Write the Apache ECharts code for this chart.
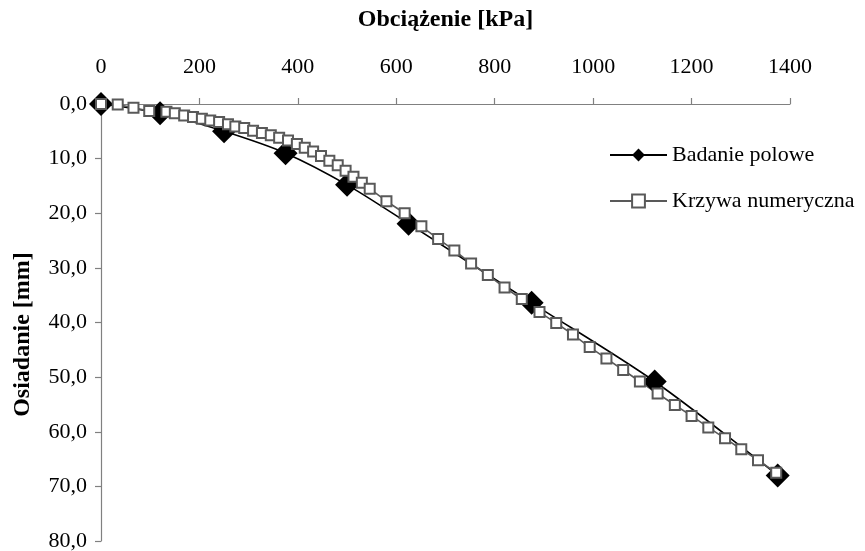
<!DOCTYPE html>
<html>
<head>
<meta charset="utf-8">
<script src="https://cdn.jsdelivr.net/npm/echarts@6/dist/echarts.min.js"></script>
<style>
html,body{margin:0;padding:0;background:#fff;}
#chart{width:865px;height:551px;}
</style>
</head>
<body>
<div id="chart"></div>
<script>
// Field test (Badanie polowe)
const fieldLoad = [0, 120, 250, 375, 500, 625, 875, 1125, 1375];
const fieldSettle = [0, 1.7, 5.0, 9.0, 14.8, 21.9, 36.4, 50.8, 68.0];

// Numerical curve (Krzywa numeryczna)
const numLoad = [0, 34, 66, 98, 133, 150, 169, 187, 205, 222, 240, 258, 273, 291, 309, 327, 345, 362, 380, 398, 414, 431, 447, 464, 481, 497, 513, 530, 546, 580, 617, 651, 685, 718, 752, 786, 820, 855, 891, 925, 959, 993, 1027, 1061, 1095, 1131, 1166, 1200, 1234, 1268, 1301, 1335, 1372];
const numSettle = [0, 0.1, 0.7, 1.3, 1.4, 1.7, 2.1, 2.4, 2.7, 3.0, 3.3, 3.7, 4.1, 4.4, 4.9, 5.3, 5.7, 6.2, 6.7, 7.3, 8.0, 8.7, 9.5, 10.4, 11.2, 12.2, 13.3, 14.4, 15.5, 17.8, 20.0, 22.4, 24.7, 26.8, 29.2, 31.3, 33.6, 35.7, 38.1, 40.1, 42.2, 44.5, 46.6, 48.7, 50.8, 53.0, 55.1, 57.1, 59.2, 61.2, 63.2, 65.2, 67.5];

const xTickLabels = ['0', '200', '400', '600', '800', '1000', '1200', '1400'];
const yTickLabels = ['0,0', '10,0', '20,0', '30,0', '40,0', '50,0', '60,0', '70,0', '80,0'];

const seriesNames = ['Badanie polowe', 'Krzywa numeryczna'];
const xAxisTitle = 'Obciążenie [kPa]';
const yAxisTitle = 'Osiadanie [mm]';

const FONT = 'Liberation Serif';
const chart = echarts.init(document.getElementById('chart'));
chart.setOption({
  animation: false,
  backgroundColor: '#fff',
  textStyle: { fontFamily: FONT },
  grid: { left: 101, right: 75, top: 104, bottom: 10, containLabel: false, outerBoundsMode: 'none' },
  legend: {
    orient: 'vertical',
    left: 604,
    top: 139,
    itemWidth: 57,
    itemHeight: 16,
    itemGap: 24,
    textStyle: { fontFamily: FONT, fontSize: 22, color: '#000' },
    data: seriesNames
  },
  xAxis: {
    type: 'value',
    position: 'top',
    min: 0, max: 1400, interval: 200,
    name: xAxisTitle,
    nameLocation: 'middle',
    nameGap: 72,
    nameTextStyle: { fontFamily: FONT, fontSize: 24, fontWeight: 'bold', color: '#000' },
    axisLine: { show: true, lineStyle: { color: '#808080', width: 1.2 } },
    axisTick: { show: true, inside: false, length: 6, lineStyle: { color: '#808080', width: 1.2 } },
    axisLabel: { margin: 26, fontFamily: FONT, fontSize: 22, color: '#000',
      formatter: v => xTickLabels[Math.round(v / 200)] },
    splitLine: { show: false }
  },
  yAxis: {
    type: 'value',
    inverse: true,
    min: 0, max: 80, interval: 10,
    name: yAxisTitle,
    nameLocation: 'middle',
    nameGap: 66,
    nameRotate: 90,
    nameTextStyle: { fontFamily: FONT, fontSize: 24, fontWeight: 'bold', color: '#000', padding: [0, 24, 0, 0] },
    axisLine: { show: true, lineStyle: { color: '#808080', width: 1.2 } },
    axisTick: { show: true, inside: false, length: 6, lineStyle: { color: '#808080', width: 1.2 } },
    axisLabel: { margin: 14, fontFamily: FONT, fontSize: 22, color: '#000',
      formatter: v => yTickLabels[Math.round(v / 10)] },
    splitLine: { show: false }
  },
  series: [
    {
      name: seriesNames[0],
      type: 'line',
      smooth: 0.3,
      data: fieldLoad.map((x, i) => [x, fieldSettle[i]]),
      symbol: 'diamond',
      symbolSize: 24,
      lineStyle: { color: '#000', width: 1.6 },
      itemStyle: { color: '#000', borderColor: '#000', borderWidth: 0 }
    },
    {
      name: seriesNames[1],
      type: 'line',
      data: numLoad.map((x, i) => [x, numSettle[i]]),
      symbol: 'rect',
      symbolSize: 10,
      lineStyle: { color: '#595959', width: 1.6 },
      itemStyle: { color: '#fff', borderColor: '#595959', borderWidth: 2 }
    }
  ]
});
</script>
</body>
</html>
